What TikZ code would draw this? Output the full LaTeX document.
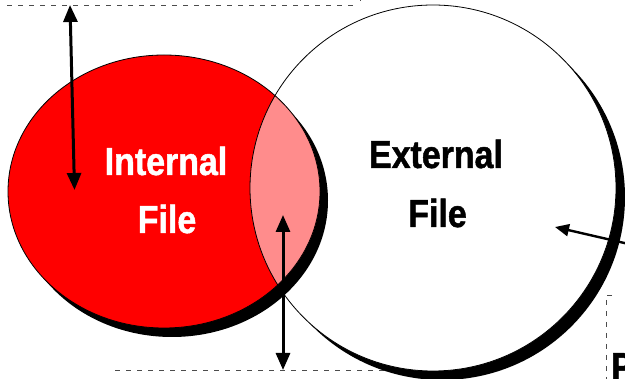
\documentclass[tikz,border=0pt]{standalone}
\usepackage{fontspec}
\newfontfamily\vennfont[FakeStretch=0.87, FakeBold=1.2]{Liberation Sans}
\usetikzlibrary{arrows.meta}

\begin{document}
\begin{tikzpicture}[x=1pt, y=-1pt,
                    rim/.style={draw=black, line width=0.8pt},
                    lens/.style={fill=red!45!white},
                    lbl/.style={font=\vennfont\bfseries\fontsize{39}{46}\selectfont, inner sep=0pt, anchor=base},
                    guide/.style={draw=black!70, line width=0.75pt, dash pattern=on 5pt off 6pt},
                    dim/.style={line width=3pt, {Triangle[length=17pt,width=14pt]}-{Triangle[length=17pt,width=14pt]}},
                    ptr/.style={line width=2.4pt, -{Triangle[length=14pt,width=12pt]}}]
  \path[use as bounding box] (0,0) rectangle (625,379);
  \clip (0,0) rectangle (625,379);
  % dashed guides
  \draw[guide] (7,5.5) -- (356,5.5);
  \draw[guide] (360,-4) -- (360,2);
  \draw[guide] (115,370.5) -- (480,370.5);
  \draw[guide] (612,295) -- (606,295) -- (606,385);
  % external file, with its shadow
  \fill[black] (442,197) circle[radius=183pt];
  \fill[white] (433,188) circle[radius=183pt];
  % internal file, with its shadow
  \fill[black] (172,200.5) ellipse[x radius=156pt, y radius=136.5pt];
  \fill[red] (164,191.5) ellipse[x radius=156pt, y radius=136.5pt];
  \begin{scope}
    \clip (164,191.5) ellipse[x radius=156pt, y radius=136.5pt];
    \fill[lens] (433,188) circle[radius=183pt];
  \end{scope}
  \draw[rim] (433,188) circle[radius=183pt];
  \draw[rim] (164,191.5) ellipse[x radius=156pt, y radius=136.5pt];
  % labels
  \node[lbl, white] (intA) at (166,175) {Internal};
  \node[lbl, white] (intB) at (167,233) {File};
  \node[lbl] (extA) at (436,168) {External};
  \node[lbl] (extB) at (437.5,227) {File};
  \node[lbl, anchor=base west] (pp) at (611,380) {P};
  % arrows
  \coordinate (upA) at (70,5);
  \coordinate (dnA) at (74.5,190);
  \coordinate (upB) at (283,215);
  \coordinate (dnB) at (283,370);
  \coordinate (tail) at (640,246.6);
  \coordinate (aim) at (555,227);
  \draw[dim] (upA) -- (dnA);
  \draw[dim] (upB) -- (dnB);
  \draw[ptr] (tail) -- (aim);
\end{tikzpicture}
\end{document}
